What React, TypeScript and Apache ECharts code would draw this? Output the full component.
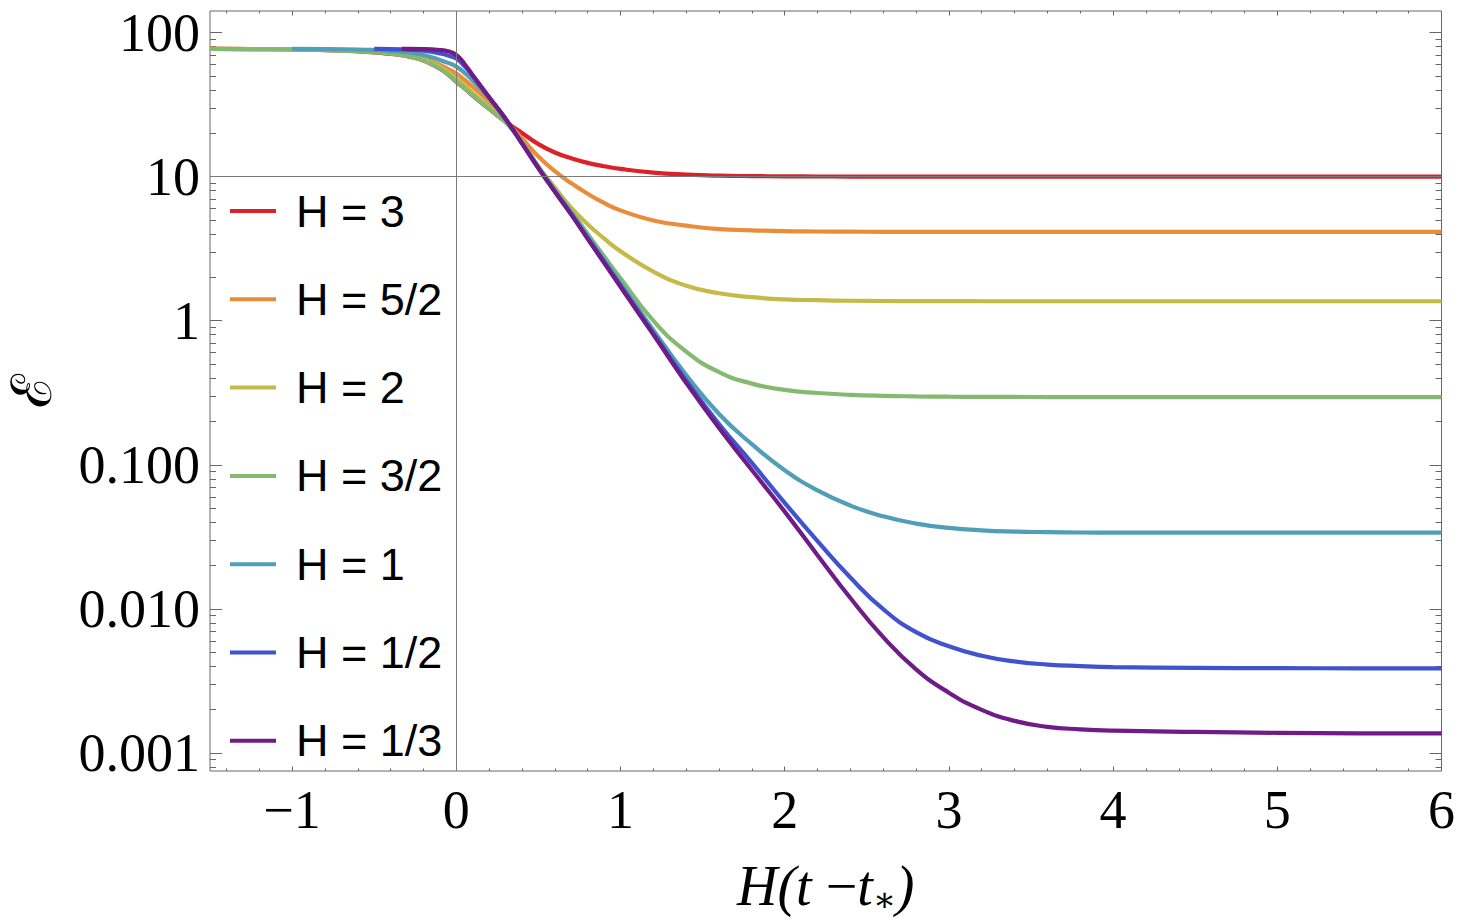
import React, { useEffect, useRef } from "react";
import * as echarts from "echarts";

// ---- data ----
const X = [
  -1.5, -1.25, -1.0, -0.8, -0.6, -0.5, -0.4, -0.333, -0.3, -0.2, -0.1, -0.05, 0, 0.05, 0.1, 0.2, 0.3,
  0.4, 0.5, 0.6, 0.7, 0.8, 0.9, 1.0, 1.2, 1.4, 1.6, 1.8, 2.0, 2.2, 2.4, 2.6, 2.8, 3.0, 3.2, 3.4, 3.6,
  3.8, 4.0, 4.5, 5.0, 5.5, 6.0,
];

const H3 = [
  76.9, 76.7, 76.3, 75.5, 74.0, 72.8, 71.0, 69.5, 68.5, 64.0, 56.0, 51.0, 45.5, 41.0, 36.5, 29.5, 24.0,
  20.1, 16.8, 14.7, 13.4, 12.45, 11.8, 11.3, 10.66, 10.33, 10.15, 10.08, 10.04, 10.02, 10.01, 10.0,
  10.0, 10.0, 10.0, 10.0, 10.0, 10.0, 10.0, 10.0, 10.0, 10.0, 10.0,
];
const H5_2 = [
  76.9, 76.8, 76.6, 76.1, 75.1, 74.2, 72.7, 71.4, 70.6, 66.5, 59.5, 55.8, 52.0, 47.0, 42.0, 33.0, 24.6,
  18.4, 13.8, 10.9, 9.0, 7.6, 6.56, 5.83, 4.96, 4.57, 4.32, 4.24, 4.18, 4.16, 4.15, 4.14, 4.14, 4.14,
  4.14, 4.14, 4.14, 4.14, 4.14, 4.14, 4.14, 4.14, 4.14,
];
const H2 = [
  76.9, 76.75, 76.5, 75.9, 74.7, 73.6, 72.0, 70.6, 69.8, 65.3, 57.8, 53.0, 48.0, 43.0, 38.2, 30.5, 24.3,
  17.4, 11.7, 8.4, 6.08, 4.67, 3.72, 3.03, 2.19, 1.75, 1.55, 1.456, 1.405, 1.388, 1.375, 1.37, 1.367,
  1.366, 1.365, 1.365, 1.365, 1.365, 1.365, 1.365, 1.365, 1.365, 1.365,
];
const H3_2 = [
  76.9, 76.7, 76.4, 75.6, 74.2, 73.0, 71.2, 69.7, 68.7, 64.0, 56.0, 51.0, 45.7, 41.0, 36.7, 29.5, 23.8,
  17.2, 11.7, 8.1, 5.75, 4.0, 2.8, 1.97, 1.0, 0.61, 0.44, 0.366, 0.331, 0.315, 0.306, 0.301, 0.2985,
  0.297, 0.2962, 0.2957, 0.2953, 0.2951, 0.295, 0.295, 0.295, 0.295, 0.295,
];
const H1 = [
  null, null, 76.9, 76.7, 76.2, 75.6, 74.6, 73.6, 72.9, 69.8, 64.5, 61.5, 58.0, 52.5, 46.5, 35.0, 25.0,
  17.1, 11.6, 8.0, 5.6, 3.85, 2.65, 1.82, 0.86, 0.42, 0.225, 0.139, 0.0917, 0.0664, 0.0521, 0.0439,
  0.0391, 0.0365, 0.0351, 0.0344, 0.0341, 0.0339, 0.03385, 0.0338, 0.0338, 0.0338, 0.0338,
];
const H1_2 = [
  null, null, null, null, null, 76.9, 76.7, 76.4, 76.1, 74.8, 71.5, 69.2, 66.0, 58.5, 50.0, 35.5, 25.1,
  17.0, 11.5, 7.9, 5.5, 3.75, 2.57, 1.75, 0.82, 0.385, 0.192, 0.103, 0.0545, 0.0295, 0.0165, 0.00995,
  0.0069, 0.0055, 0.00473, 0.00432, 0.00411, 0.00401, 0.00395, 0.0039, 0.00388, 0.00387, 0.00386,
];
const H1_3 = [
  null, null, null, null, null, null, null, 76.9, 76.9, 76.7, 75.6, 74.0, 70.0, 60.5, 50.5, 35.5, 25.2,
  17.0, 11.4, 7.85, 5.45, 3.7, 2.52, 1.72, 0.8, 0.37, 0.18, 0.092, 0.0473, 0.0236, 0.0119, 0.00637,
  0.00381, 0.00262, 0.00199, 0.00167, 0.00152, 0.00146, 0.00143, 0.0014, 0.00138, 0.00137, 0.00137,
];

const SERIES_NAMES = ["H = 3", "H = 5/2", "H = 2", "H = 3/2", "H = 1", "H = 1/2", "H = 1/3"];
const SERIES_VALUES = [H3, H5_2, H2, H3_2, H1, H1_2, H1_3];
const SERIES_COLORS = ["#DC2228", "#EA8D3A", "#C5BA47", "#84BA6F", "#509EB8", "#4052CE", "#701C86"];

const X_MAJOR = [-1, 0, 1, 2, 3, 4, 5, 6];
const X_LABELS = ["\u22121", "0", "1", "2", "3", "4", "5", "6"];
const Y_MAJOR = [0.001, 0.01, 0.1, 1, 10, 100];
const Y_LABELS = ["0.001", "0.010", "0.100", "1", "10", "100"];

const X_MIN = -1.5;
const X_MAX = 6;
const Y_MIN = 0.00075;
const Y_MAX = 141;

const X_MINOR: number[] = [];
for (let k = -7; k <= 30; k++) {
  const v = Math.round(k * 0.2 * 1e6) / 1e6;
  if (Math.abs(v - Math.round(v)) > 1e-6) X_MINOR.push(v);
}
const Y_MINOR: number[] = [0.0008, 0.0009];
for (let e = -3; e <= 1; e++) {
  for (let k = 2; k <= 9; k++) Y_MINOR.push(Number((k * Math.pow(10, e)).toPrecision(6)));
}

const GRAY = "#666666";
const SERIF = "'Liberation Serif', 'Times New Roman', 'DejaVu Serif', serif";
const SANS = "'Liberation Sans', Arial, 'DejaVu Sans', sans-serif";

function xLabel(v: number): string {
  const i = X_MAJOR.findIndex((t) => Math.abs(t - v) < 1e-6);
  return i >= 0 ? X_LABELS[i] : "";
}
function yLabel(v: number): string {
  const i = Y_MAJOR.findIndex((t) => Math.abs(Math.log10(v / t)) < 1e-6);
  return i >= 0 ? Y_LABELS[i] : "";
}

function xAxisDef(position: "top" | "bottom", ticks: number[], len: number, labels: boolean, extra: any = {}) {
  return {
    type: "value",
    min: X_MIN,
    max: X_MAX,
    position,
    axisLine: { show: false, onZero: false },
    splitLine: { show: false },
    axisTick: { show: true, inside: true, length: len, customValues: ticks, lineStyle: { color: GRAY, width: 1 } },
    axisLabel: labels
      ? {
          show: true,
          customValues: X_MAJOR,
          formatter: xLabel,
          fontSize: 54,
          fontFamily: SERIF,
          color: "#000",
          margin: 12,
        }
      : { show: false },
    ...extra,
  };
}
function yAxisDef(position: "left" | "right", ticks: number[], len: number, labels: boolean) {
  return {
    type: "log",
    logBase: 10,
    min: Y_MIN,
    max: Y_MAX,
    position,
    axisLine: { show: false, onZero: false },
    splitLine: { show: false },
    axisTick: { show: true, inside: true, length: len, customValues: ticks, lineStyle: { color: GRAY, width: 1 } },
    axisLabel: labels
      ? {
          show: true,
          customValues: Y_MAJOR,
          formatter: yLabel,
          fontSize: 54,
          fontFamily: SERIF,
          color: "#000",
          margin: 10,
        }
      : { show: false },
  };
}

export default function App() {
  const ref = useRef<HTMLDivElement>(null);
  useEffect(() => {
    const chart = echarts.init(ref.current!, null, { renderer: "svg" });
    const series: any[] = SERIES_NAMES.map((name, si) => {
      const vals = SERIES_VALUES[si];
      const data: [number, number][] = [];
      X.forEach((x, i) => {
        const v = vals[i];
        if (v !== null && v !== undefined) data.push([x, v as number]);
      });
      const s: any = {
        name,
        type: "line",
        data,
        xAxisIndex: 0,
        yAxisIndex: 0,
        showSymbol: false,
        smooth: 0.5,
        lineStyle: { color: SERIES_COLORS[si], width: 4.2 },
        itemStyle: { color: SERIES_COLORS[si] },
        emphasis: { disabled: true },
        z: 3 + si,
      };
      if (si === 0) {
        s.markLine = {
          silent: true,
          symbol: "none",
          label: { show: false },
          lineStyle: { color: "#7a7a7a", width: 1, type: "solid" },
          data: [{ xAxis: 0 }, { yAxis: 10 }],
          z: 20,
        };
      }
      return s;
    });

    chart.setOption({
      animation: false,
      backgroundColor: "#ffffff",
      grid: {
        left: 210,
        right: 15,
        top: 11,
        bottom: 148,
        show: true,
        borderColor: GRAY,
        borderWidth: 1,
        containLabel: false,
      },
      xAxis: [
        xAxisDef("bottom", X_MAJOR, 4.5, true, {
          name: "{i|H}{i|(t }{n|\u2212}{i|t}{s|\u2217}{i|)}",
          nameLocation: "middle",
          nameGap: 85,
          nameTextStyle: {
            rich: {
              i: { fontFamily: SERIF, fontStyle: "italic", fontSize: 56, lineHeight: 60, color: "#000" },
              n: { fontFamily: SERIF, fontSize: 56, lineHeight: 60, color: "#000" },
              s: { fontFamily: SERIF, fontSize: 34, lineHeight: 24, verticalAlign: "bottom", color: "#000" },
            },
          },
        }),
        xAxisDef("bottom", X_MINOR, 2.5, false),
        xAxisDef("top", X_MAJOR, 4.5, false),
        xAxisDef("top", X_MINOR, 2.5, false),
      ],
      yAxis: [
        yAxisDef("left", Y_MAJOR, 12, true),
        yAxisDef("left", Y_MINOR, 6, false),
        yAxisDef("right", Y_MAJOR, 12, false),
        yAxisDef("right", Y_MINOR, 6, false),
      ],
      legend: {
        orient: "vertical",
        left: 225,
        top: 183,
        itemWidth: 46,
        itemHeight: 4,
        itemGap: 42.3,
        icon: "rect",
        selectedMode: false,
        data: SERIES_NAMES,
        textStyle: {
          fontSize: 45,
          lineHeight: 46,
          fontFamily: SANS,
          color: "#000",
          padding: [0, 0, 0, 15],
        },
      },
      graphic: [
        {
          type: "text",
          x: 32,
          y: 391,
          rotation: Math.PI / 2,
          style: {
            text: "\u2130",
            fontSize: 56,
            fontFamily: SERIF,
            fill: "#000",
            align: "center",
            verticalAlign: "middle",
          },
        },
      ],
      series,
    });
    return () => chart.dispose();
  }, []);
  return (
    <div
      ref={ref}
      style={{ position: "fixed", left: 0, top: 0, width: 1458, height: 921, background: "#fff" }}
    />
  );
}
